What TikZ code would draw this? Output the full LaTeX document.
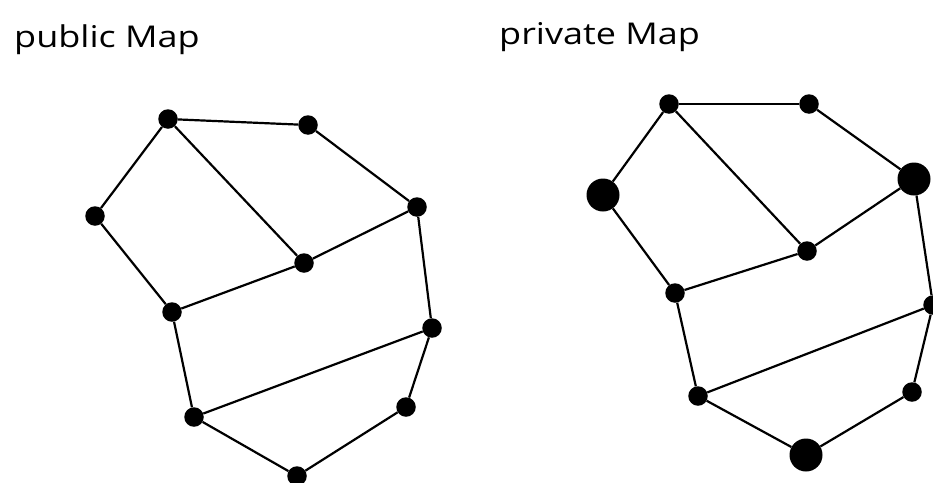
\documentclass[tikz,border=0pt]{standalone}
\usepackage{fontspec}
\newfontfamily\handfont[FakeStretch=1.2]{Open Sans}
\usepackage{tikz}

\begin{document}
\begin{tikzpicture}[
  x=1pt,y=-1pt,
  ttl/.style={font=\handfont\fontsize{30}{33}\selectfont, anchor=base west, inner sep=0pt},
  dot/.style={circle, fill=black, draw=none, inner sep=0pt, minimum size=19.5pt},
  bigdot/.style={dot, minimum size=33pt},
  link/.style={line width=2.2pt, color=black},
]
\useasboundingbox (0,0) rectangle (933,482);

\node[ttl] (tpub) at (14,47) {public Map};
\node[ttl] (tpriv) at (499,44) {private Map};

% public map
\node[dot] (pa) at (168,119) {}; \node[dot] (pb) at (308,125) {};
\node[dot] (pc) at (95,216) {};  \node[dot] (pd) at (417,207) {};
\node[dot] (pe) at (304,263) {}; \node[dot] (pf) at (172,312) {};
\node[dot] (pg) at (432,328) {}; \node[dot] (ph) at (194,417) {};
\node[dot] (pi) at (406,407) {}; \node[dot] (pj) at (297,476) {};
\foreach \u/\v in {pa/pb,pa/pc,pa/pe,pb/pd,pc/pf,pe/pf,pe/pd,pd/pg,pf/ph,ph/pg,pg/pi,ph/pj,pj/pi} {\draw[link] (\u)--(\v);}

% private map
\node[dot] (qa) at (669,104) {}; \node[dot] (qb) at (809,104) {};
\node[bigdot] (qc) at (603,195) {}; \node[bigdot] (qd) at (914,179) {};
\node[dot] (qe) at (807,251) {}; \node[dot] (qf) at (675,293) {};
\node[dot] (qg) at (933,305) {}; \node[dot] (qh) at (698,396) {};
\node[dot] (qi) at (912,392) {}; \node[bigdot] (qj) at (806,455) {};
\foreach \u/\v in {qa/qb,qa/qc,qa/qe,qb/qd,qc/qf,qe/qf,qe/qd,qd/qg,qf/qh,qh/qg,qg/qi,qh/qj,qj/qi} {\draw[link] (\u)--(\v);}

\end{tikzpicture}
\end{document}
